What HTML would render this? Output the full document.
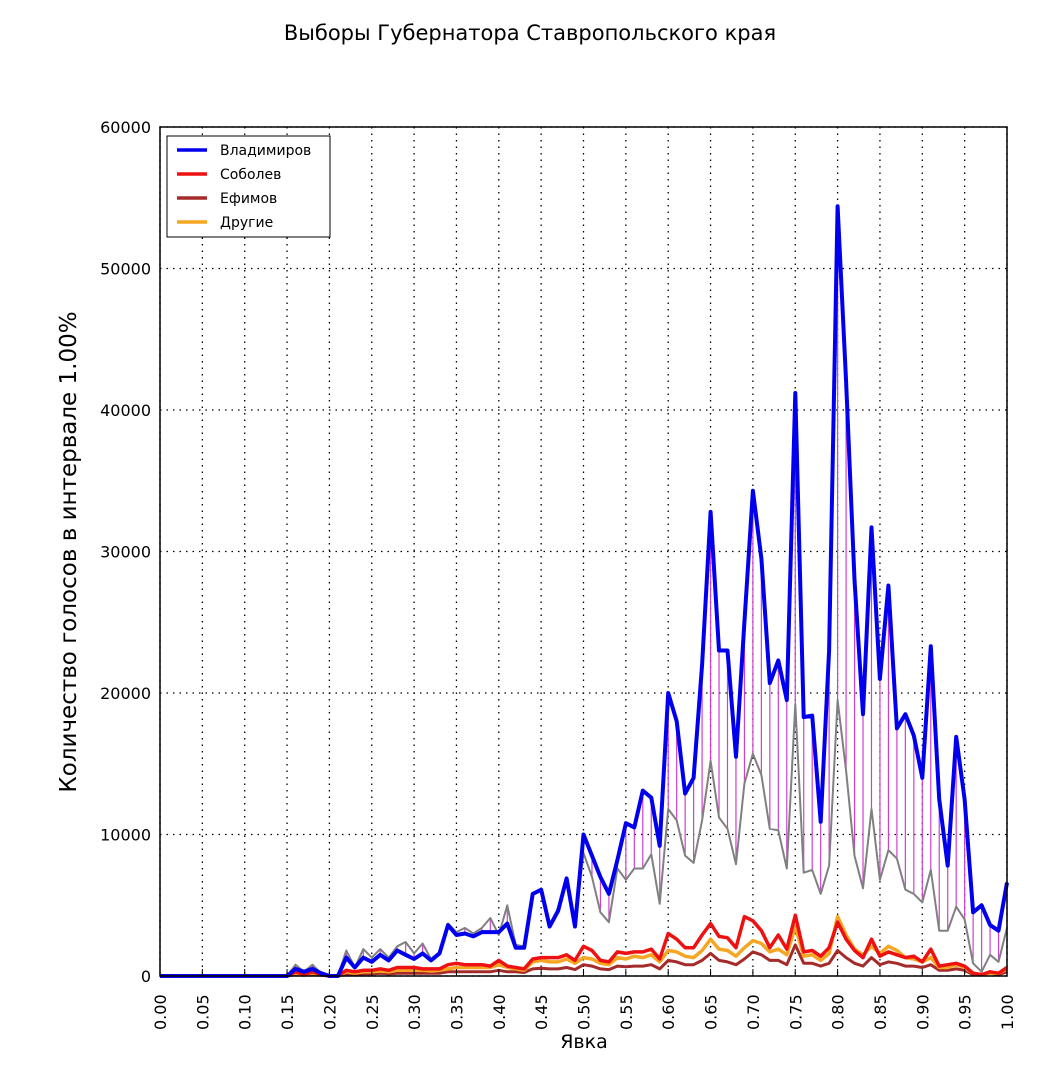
<!DOCTYPE html>
<html><head><meta charset="utf-8"><style>
body{margin:0;background:#fff;}
svg text{font-family:"DejaVu Sans","Liberation Sans",sans-serif;}
</style></head><body>
<svg id="chart" width="1060" height="1060" xmlns="http://www.w3.org/2000/svg">
<rect width="1060" height="1060" fill="#fff"/>
<text x="530" y="40" font-size="21" text-anchor="middle">Выборы Губернатора Ставропольского края</text>
<g id="grid"></g>
<g id="hatch"></g>
<g id="lines"></g>
<rect x="160" y="127" width="847" height="849" fill="none" stroke="#000" stroke-width="1.5"/>
<g id="axes"></g>
<text x="584" y="1048" font-size="19" text-anchor="middle">Явка</text>
<text transform="translate(76,552) rotate(-90)" font-size="23" text-anchor="middle">Количество голосов в интервале 1.00%</text>
<g>
<rect x="167" y="136" width="163" height="101" fill="#fff" stroke="#000" stroke-width="1"/>
<g id="legend"></g>
</g>
</svg>
<script>
const turnout = Array.from({length:101},(_,i)=>i/100);
const vladimirov=[0,0,0,0,0,0,0,0,0,0,0,0,0,0,0,0,500,300,500,200,0,0,1300,600,1300,1000,1500,1100,1800,1500,1200,1600,1100,1600,3600,2900,3000,2800,3100,3100,3100,3700,2000,2000,5800,6100,3500,4600,6900,3500,10000,8500,7000,5800,8200,10800,10500,13100,12600,9200,20000,18000,12900,14000,22000,32800,23000,23000,15500,25000,34300,29500,20700,22300,19500,41200,18300,18400,10900,23000,54400,42000,28000,18500,31700,21000,27600,17500,18500,17000,14000,23300,12500,7800,16900,12500,4500,5000,3600,3200,6600];
const expected=[0,0,0,0,0,0,0,0,0,0,0,0,0,0,0,0,800,300,800,200,0,0,1800,600,1900,1300,1900,1300,2100,2400,1600,2300,1200,1700,3700,3100,3400,3000,3400,4100,2900,5000,2200,2100,5800,6100,3600,4800,6700,3500,8700,7000,4500,3800,7600,6800,7600,7600,8600,5100,11800,11000,8500,8000,11000,15200,11200,10400,7900,13600,15700,14200,10400,10300,7600,19200,7300,7500,5800,7800,19500,14500,8500,6200,11800,6800,8900,8300,6100,5800,5200,7500,3200,3200,4900,4000,900,300,1500,1000,3400];
const sobolev=[0,0,0,0,0,0,0,0,0,0,0,0,0,0,0,0,300,100,300,100,0,0,400,300,400,400,500,400,600,600,600,500,500,500,800,900,800,800,800,700,1100,700,600,500,1200,1300,1300,1300,1500,1100,2100,1800,1100,1000,1700,1600,1700,1700,1900,1200,3000,2600,2000,2000,2900,3700,2800,2700,2000,4200,3900,3200,2000,2900,1900,4300,1700,1800,1400,2000,3800,2600,1800,1300,2600,1400,1700,1500,1300,1400,1000,1900,700,800,900,700,200,100,300,200,600];
const efimov=[0,0,0,0,0,0,0,0,0,0,0,0,0,0,0,0,100,50,100,50,0,0,150,100,150,150,200,150,200,200,200,200,200,200,300,300,300,300,300,300,400,300,300,250,500,550,500,500,600,450,800,700,500,450,700,650,700,700,800,500,1100,1000,800,800,1100,1600,1100,1000,800,1200,1700,1500,1100,1100,800,2200,900,900,700,900,1800,1300,900,700,1300,800,1000,900,700,700,600,800,400,400,500,400,100,100,200,100,300];
const others=[0,0,0,0,0,0,0,0,0,0,0,0,0,0,0,0,200,100,200,100,0,0,300,200,300,300,350,300,400,400,400,400,350,400,500,600,600,600,600,600,800,600,500,400,1000,1100,1000,1000,1200,900,1300,1200,900,800,1300,1200,1400,1300,1500,1000,1800,1700,1400,1300,1800,2600,1900,1800,1400,2000,2500,2300,1700,1900,1500,3500,1400,1500,1100,1600,4200,2900,1900,1500,2100,1600,2100,1800,1300,1200,1000,1300,600,600,800,600,200,100,200,200,500];
const xTicks=Array.from({length:21},(_,i)=>i*0.05);
const yTicks=[0,10000,20000,30000,40000,50000,60000];
const series=[
 {name:'Владимиров',data:vladimirov,color:'#0000ee',w:4,key:'vladimirov'},
 {name:'Соболев',data:sobolev,color:'#ee1111',w:3.5,key:'sobolev'},
 {name:'Ефимов',data:efimov,color:'#a52a2a',w:3,key:'efimov'},
 {name:'Другие',data:others,color:'#f5a623',w:3.5,key:'others'}];
const X0=160,X1=1007,Y0=976,Y1=127;
const sx=v=>X0+(X1-X0)*v;
const sy=v=>Y0-(Y0-Y1)*v/60000;
const NS='http://www.w3.org/2000/svg';
function mk(tag,attrs,parent){const e=document.createElementNS(NS,tag);for(const k in attrs)e.setAttribute(k,attrs[k]);parent.appendChild(e);return e;}
const grid=document.getElementById('grid'),axes=document.getElementById('axes');
xTicks.forEach(t=>{
 const x=sx(t);
 const g=mk('line',{x1:x,x2:x,y1:Y1,y2:Y0,stroke:'#000','stroke-dasharray':'1.5,5','stroke-width':1.3},grid);
 
 
 const tk=mk('line',{x1:x,x2:x,y1:Y0,y2:Y0-7,stroke:'#000'},axes);
 
 
 const lb=mk('text',{transform:`translate(${x+6},1030) rotate(-90)`,'font-size':16},axes);
 lb.textContent=t.toFixed(2);
 
 
});
yTicks.forEach(t=>{
 const y=sy(t);
 const g=mk('line',{x1:X0,x2:X1,y1:y,y2:y,stroke:'#000','stroke-dasharray':'1.5,5','stroke-width':1.3},grid);
 
 
 const lb=mk('text',{x:151,y:y+6,'font-size':16,'text-anchor':'end'},axes);
 lb.textContent=t;
 
 
});
const hatch=document.getElementById('hatch');
turnout.forEach((t,i)=>{
 const a=vladimirov[i],b=expected[i];
 if(a===b)return;
 const l=mk('line',{x1:sx(t),x2:sx(t),y1:sy(a),y2:sy(b),stroke:'#d040d0','stroke-width':1.2},hatch);
 
 
});
const lines=document.getElementById('lines');
function pts(d){return d.map((v,i)=>sx(turnout[i]).toFixed(1)+','+sy(v).toFixed(1)).join(' ');}
const ge=mk('polyline',{points:pts(expected),fill:'none',stroke:'#808080','stroke-width':2,'stroke-linejoin':'round'},lines);


[series[2],series[3],series[1],series[0]].forEach(s=>{
 const p=mk('polyline',{points:pts(s.data),fill:'none',stroke:s.color,'stroke-width':s.w,'stroke-linejoin':'round'},lines);
 
 
});
const leg=document.getElementById('legend');
series.forEach((s,i)=>{
 const y=150+i*24;
 const l=mk('line',{x1:177,x2:207,y1:y,y2:y,stroke:s.color,'stroke-width':3.5},leg);
 
 
 const t=mk('text',{x:220,y:y+5,'font-size':14},leg);
 t.textContent=s.name;
 
 
});
</script>
</body></html>
